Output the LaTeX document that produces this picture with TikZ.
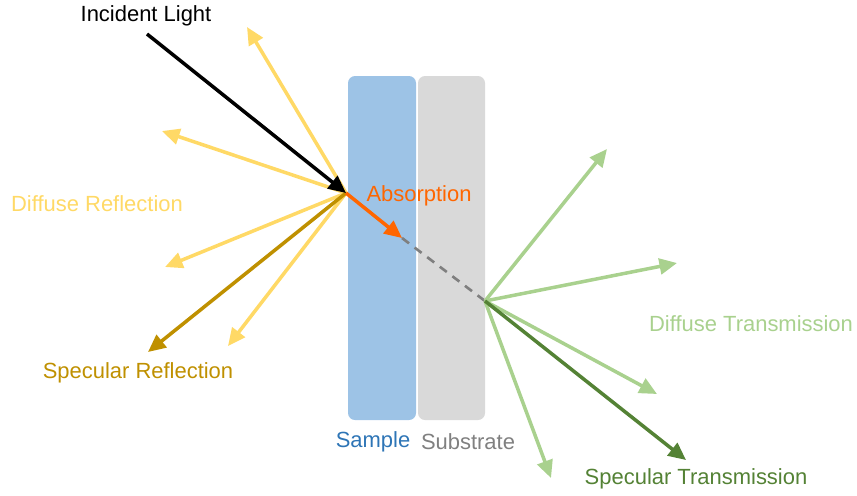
\documentclass[tikz,border=0pt]{standalone}
\usepackage{fontspec}
\setmainfont{Liberation Sans}
\usepackage{tikz}
\usetikzlibrary{arrows.meta}
\definecolor{Sky}{HTML}{9DC3E6}
\definecolor{SkyText}{HTML}{2E75B6}
\definecolor{Fog}{HTML}{D9D9D9}
\definecolor{FogText}{HTML}{808080}
\definecolor{Dash}{HTML}{7F7F7F}
\definecolor{Butter}{HTML}{FFD966}
\definecolor{Gold}{HTML}{BF9000}
\definecolor{Flame}{HTML}{FF6600}
\definecolor{Leaf}{HTML}{A9D18E}
\definecolor{Moss}{HTML}{548235}
\tikzset{
  layer/.style={rounded corners=4pt,draw=none},
  ray/.style={-{Triangle[length=10pt,width=9pt]},line width=2pt},
  lbl/.style={font=\fontsize{12.5}{15}\selectfont,inner sep=0pt}
}
\begin{document}
\begin{tikzpicture}[x=0.02cm,y=-0.02cm]
  \useasboundingbox (0,0) rectangle (857,495);
  \fill[layer,Sky] (348,76) rectangle (416,420);
  \fill[layer,Fog] (418,76) rectangle (485,420);

  \coordinate (hit) at (346,193);
  \coordinate (src) at (147,34);
  \coordinate (absend) at (402,238);
  \coordinate (exit) at (485,301);
  \coordinate (specref) at (148,352);
  \coordinate (spectr) at (686,460);

  \foreach \n/\x/\y in {d1/247/27,d2/162/131,d3/165/267,d4/228/346,
                        t1/607/149,t2/677/263,t3/657/394,t4/551/478}
    \coordinate (\n) at (\x,\y);

  \foreach \n in {d1,d2,d3,d4}
    \draw[ray,Butter] (hit) -- (\n);
  \draw[ray,Gold] (hit) -- (specref);
  \draw[ray,black] (src) -- (hit);
  \draw[Dash,line width=1.5pt,dash pattern=on 5pt off 4pt] (absend) -- (exit);
  \draw[ray,Flame] (hit) -- (absend);
  \foreach \n in {t1,t2,t3,t4}
    \draw[ray,Leaf] (exit) -- (\n);
  \draw[ray,Moss] (exit) -- (spectr);

  \node[lbl,text=black] (incident) at (146,16) {Incident Light};
  \node[lbl,text=Butter] (diffref) at (97,204) {Diffuse Reflection};
  \node[lbl,text=Gold] (specrefl) at (138,373) {Specular Reflection};
  \node[lbl,text=Flame] (absorb) at (419,196) {Absorption};
  \node[lbl,text=SkyText] (sample) at (373,442) {Sample};
  \node[lbl,text=FogText] (substrate) at (468,442) {Substrate};
  \node[lbl,text=Leaf] (difftr) at (751,324) {Diffuse Transmission};
  \node[lbl,text=Moss] (spectrl) at (696,479) {Specular Transmission};
\end{tikzpicture}
\end{document}
